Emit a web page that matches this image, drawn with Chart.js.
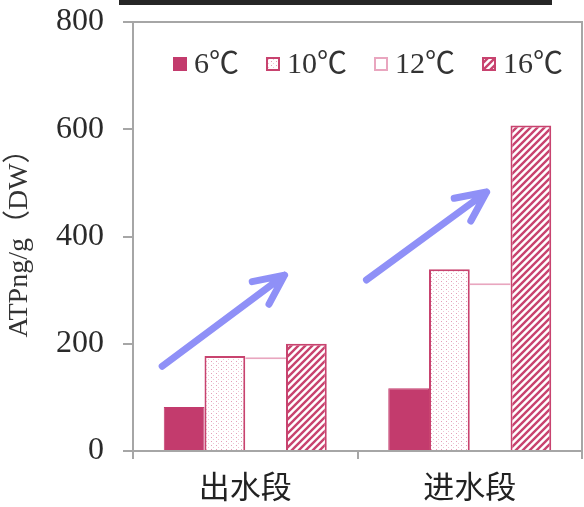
<!DOCTYPE html>
<html>
<head>
<meta charset="utf-8">
<script src="https://cdn.jsdelivr.net/npm/chart.js@4/dist/chart.umd.min.js"></script>
<style>
  html, body { margin: 0; padding: 0; background: #fff; }
  #wrap { width: 584px; height: 507px; position: relative; }
</style>
</head>
<body>
<div id="wrap"><canvas id="c" width="584" height="507"></canvas></div>
<script>
// ATP content (ng/g DW) by reach and water temperature
const categories = ['出水段', '进水段'];
const seriesNames = ['6℃', '10℃', '12℃', '16℃'];
const atp6 = [82, 117];
const atp10 = [177, 339];
const atp12 = [175, 313];
const atp16 = [200, 607];
const yTicks = [0, 200, 400, 600, 800];
const yTitle = 'ATPng/g（DW）';
// rising-trend arrows, given as [category index, ATP value]
const trendArrows = [
  { from: [-0.37, 158], to: [0.175, 328] },
  { from: [0.54, 319], to: [1.075, 483] }
];

const PINK = '#c33b6d';
const PINK_LINE = '#c8436f';
const PINK_LIGHT = '#e9a6bf';
const SERIF = "'Liberation Serif', 'Noto Sans CJK SC', serif";

function dotPattern() {
  const c = document.createElement('canvas');
  c.width = 5; c.height = 4;
  const g = c.getContext('2d');
  g.fillStyle = '#fff'; g.fillRect(0, 0, 5, 4);
  g.fillStyle = '#e4a0b9';
  g.fillRect(1, 1, 1, 1);
  g.fillStyle = '#efc6d5';
  g.fillRect(3, 3, 1, 1);
  return g.createPattern(c, 'repeat');
}

function hatchPattern() {
  const s = 7;
  const c = document.createElement('canvas');
  c.width = s; c.height = s;
  const g = c.getContext('2d');
  g.fillStyle = '#fff'; g.fillRect(0, 0, s, s);
  g.strokeStyle = PINK_LINE; g.lineWidth = 2.4;
  g.beginPath();
  g.moveTo(0, s); g.lineTo(s, 0);
  g.moveTo(-s, s); g.lineTo(s, -s);
  g.moveTo(0, 2 * s); g.lineTo(2 * s, 0);
  g.stroke();
  return g.createPattern(c, 'repeat');
}

const fills = [PINK, dotPattern(), '#ffffff', hatchPattern()];
const borders = [PINK, PINK_LINE, PINK_LIGHT, PINK_LINE];
const borderWidths = [1, 2, { top: 2, left: 0, right: 0, bottom: 0 }, 2];
const seriesValues = [atp6, atp10, atp12, atp16];

const datasets = seriesNames.map((name, i) => ({
  label: name,
  data: seriesValues[i],
  backgroundColor: fills[i],
  borderColor: borders[i],
  borderWidth: borderWidths[i],
  borderSkipped: 'bottom',
  categoryPercentage: 0.726,
  barPercentage: 1.0
}));

// frame, header rule, in-plot legend and trend arrows
const decorations = {
  id: 'decorations',
  beforeDatasetsDraw(chart) {
    const { ctx, chartArea: a } = chart;
    ctx.save();
    ctx.strokeStyle = '#a6a6a6';
    ctx.lineWidth = 2;
    ctx.beginPath();
    ctx.moveTo(a.left, a.top); ctx.lineTo(a.right, a.top);
    ctx.lineTo(a.right, a.bottom);
    ctx.stroke();
    ctx.fillStyle = '#262626';
    ctx.fillRect(a.left - 14, 0, 433, 5);
    ctx.restore();
  },
  afterDatasetsDraw(chart) {
    const { ctx, chartArea: a, scales: { x, y } } = chart;
    ctx.save();
    // legend
    ctx.font = '30px ' + SERIF;
    ctx.textBaseline = 'middle';
    let lx = a.left + 40;
    const ly = 64;
    chart.data.datasets.forEach((ds) => {
      ctx.fillStyle = ds.backgroundColor;
      ctx.fillRect(lx, ly - 7, 14, 14);
      ctx.strokeStyle = ds.borderColor;
      ctx.lineWidth = 2;
      ctx.strokeRect(lx + 1, ly - 6, 12, 12);
      ctx.fillStyle = '#333';
      ctx.fillText(ds.label, lx + 21, ly + 1);
      lx += 21 + ctx.measureText(ds.label).width + 27;
    });
    // arrows
    ctx.strokeStyle = '#8f90f7';
    ctx.lineWidth = 7;
    ctx.lineCap = 'round';
    ctx.lineJoin = 'round';
    trendArrows.forEach(ar => {
      const x0 = x.getPixelForValue(ar.from[0]), y0 = y.getPixelForValue(ar.from[1]);
      const x1 = x.getPixelForValue(ar.to[0]), y1 = y.getPixelForValue(ar.to[1]);
      const ang = Math.atan2(y1 - y0, x1 - x0);
      const hl = 33, spread = 0.44;
      ctx.beginPath();
      ctx.moveTo(x0, y0); ctx.lineTo(x1, y1);
      ctx.moveTo(x1 - hl * Math.cos(ang - spread), y1 - hl * Math.sin(ang - spread));
      ctx.lineTo(x1, y1);
      ctx.lineTo(x1 - hl * Math.cos(ang + spread), y1 - hl * Math.sin(ang + spread));
      ctx.stroke();
    });
    ctx.restore();
  }
};

new Chart(document.getElementById('c'), {
  type: 'bar',
  data: { labels: categories, datasets },
  options: {
    responsive: false,
    animation: false,
    devicePixelRatio: 1,
    layout: { padding: { top: 22, right: 2, left: 0, bottom: 0 } },
    plugins: { legend: { display: false }, tooltip: { enabled: false } },
    scales: {
      x: {
        grid: { offset: true, drawOnChartArea: false, tickLength: 8, color: '#a6a6a6', lineWidth: 2 },
        border: { color: '#a6a6a6', width: 2 },
        ticks: { font: { family: "'Noto Sans CJK SC', sans-serif", size: 31 }, color: '#222', padding: 9 },
        afterFit: s => { s.height = 56; s.paddingLeft = 0; s.paddingRight = 0; }
      },
      y: {
        min: 0, max: 800,
        afterBuildTicks: s => { s.ticks = yTicks.map(v => ({ value: v })); },
        grid: { drawOnChartArea: false, tickLength: 10, color: '#a6a6a6', lineWidth: 2 },
        border: { color: '#a6a6a6', width: 2 },
        ticks: { font: { family: SERIF, size: 32 }, color: '#2a2a2a', padding: 19 },
        title: { display: true, text: yTitle, font: { family: SERIF, size: 28 }, color: '#333', padding: { top: 3, bottom: 0 } },
        afterFit: s => { s.width = 133; s.paddingTop = 0; s.paddingBottom = 0; }
      }
    }
  },
  plugins: [decorations]
});
</script>
</body>
</html>
